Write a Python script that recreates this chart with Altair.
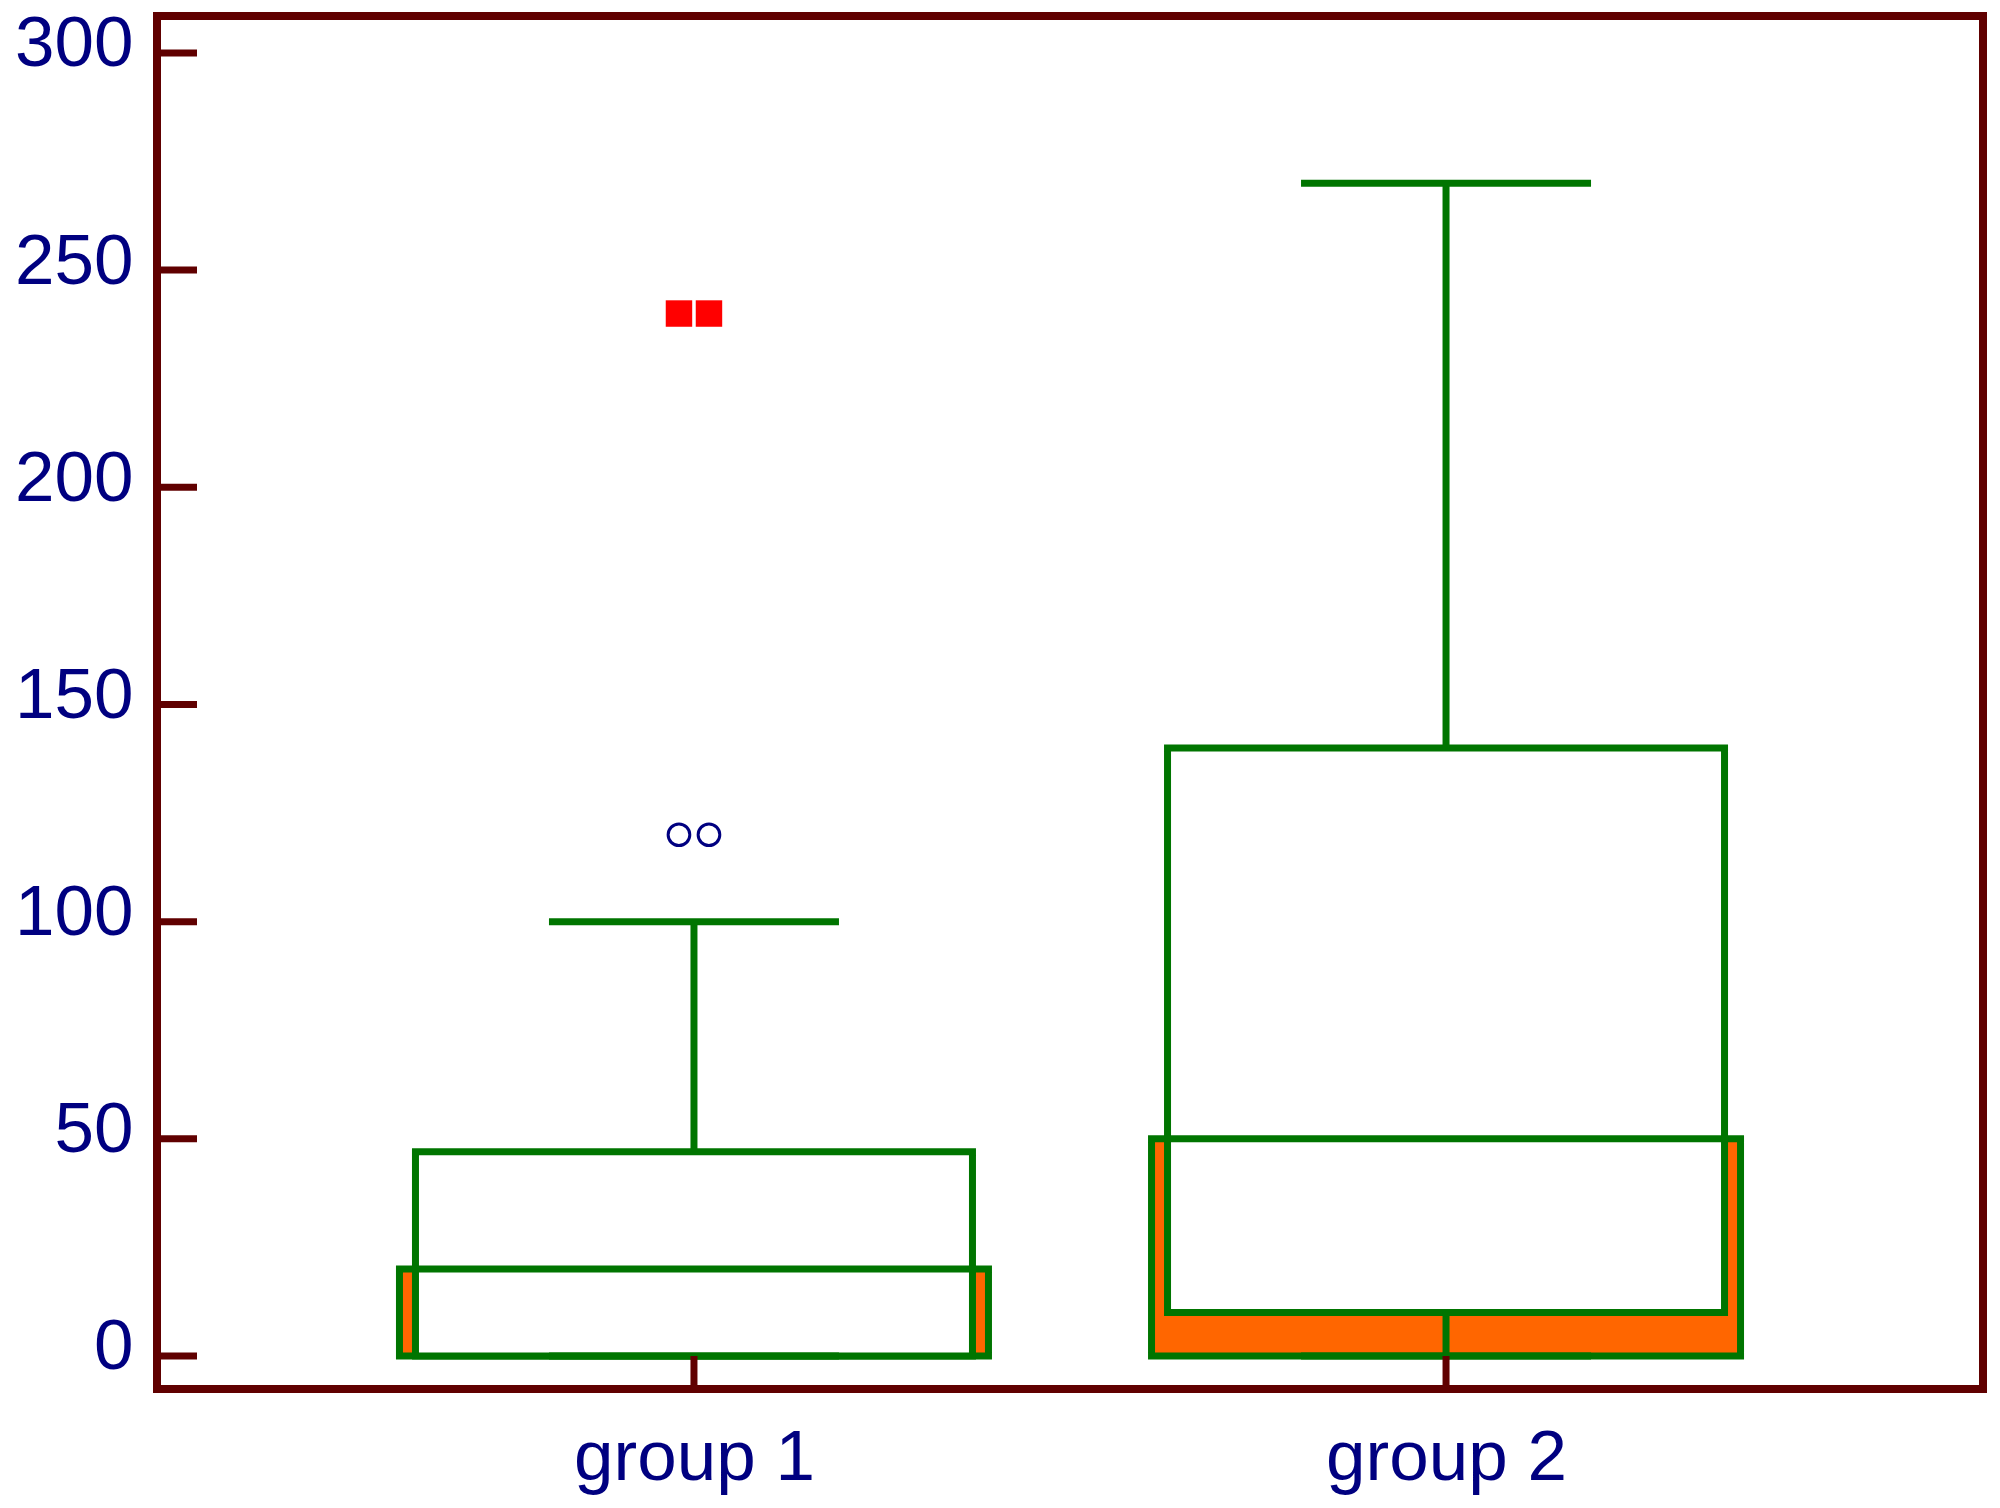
import altair as alt
import pandas as pd

# ---- data ----
groups = ["group 1", "group 2"]
q1 = [0, 10]
q3 = [47, 140]
median = [20, 50]
whisker_low = [0, 0]
whisker_high = [100, 270]
ci_low = [0, 0]
ci_high = [20, 50]

# outliers (group 1): two near outliers (circles), two far outliers (squares)
near_group = ["group 1", "group 1"]
near_vals = [120, 120]
far_group = ["group 1", "group 1"]
far_vals = [240, 240]

y_ticks = [0, 50, 100, 150, 200, 250, 300]

GREEN = "#007500"
ORANGE = "#FF6600"
FRAME = "#600000"
NAVY = "#000080"
FONT = "Liberation Sans"
LW = 7

W, H = 1826, 1373

stats = pd.DataFrame({
    "group": groups, "q1": q1, "q3": q3, "median": median,
    "wlo": whisker_low, "whi": whisker_high,
    "cilo": ci_low, "cihi": ci_high,
})
near = pd.DataFrame({"group": near_group, "value": near_vals, "slot": [0, 1]})
far = pd.DataFrame({"group": far_group, "value": far_vals, "slot": [0, 1]})
yt = pd.DataFrame({"v": y_ticks})

xscale = alt.Scale(type="point", domain=groups, padding=0.714)
yscale = alt.Scale(domain=[-7.6, 308.5], nice=False, zero=False)

X = alt.X("group:N", scale=xscale,
          axis=alt.Axis(title=None, labelAngle=0, domain=False, ticks=False,
                        grid=False, labelFontSize=71, labelFont=FONT,
                        labelColor=NAVY, labelPadding=34, labelLimit=0))
yaxis = alt.Axis(title=None, values=y_ticks, domain=False, ticks=False,
                 grid=False, labelFontSize=71, labelFont=FONT,
                 labelColor=NAVY, labelPadding=24, labelOffset=-8,
                 labelLimit=0)

def Y(field):
    return alt.Y(field, scale=yscale, axis=yaxis)

offset = alt.XOffset("slot:O", scale=alt.Scale(type="point", domain=[0, 1],
                                                range=[-15, 15], padding=0))

base = alt.Chart(stats)

ci = base.mark_bar(size=589, fill=ORANGE, stroke=GREEN, strokeWidth=LW).encode(
    x=X, y=Y("cilo:Q"), y2="cihi:Q"
)
box = base.mark_bar(size=557, fill="white", stroke=GREEN, strokeWidth=LW).encode(
    x=X, y=Y("q1:Q"), y2="q3:Q"
)
med = base.mark_tick(size=564, thickness=LW, color=GREEN, opacity=1).encode(
    x=X, y=Y("median:Q")
)
upper = base.mark_rule(strokeWidth=LW, color=GREEN).encode(
    x=X, y=Y("q3:Q"), y2="whi:Q"
)
lower = base.mark_rule(strokeWidth=LW, color=GREEN).encode(
    x=X, y=Y("wlo:Q"), y2="q1:Q"
)
cap_hi = base.mark_tick(size=290, thickness=LW, color=GREEN, opacity=1).encode(
    x=X, y=Y("whi:Q")
)
cap_lo = base.mark_tick(size=290, thickness=LW, color=GREEN, opacity=1).encode(
    x=X, y=Y("wlo:Q")
)

circles = alt.Chart(near).mark_point(
    shape="circle", filled=False, stroke=NAVY, strokeWidth=3, size=470, opacity=1
).encode(x=X, xOffset=offset, y=Y("value:Q"))

squares = alt.Chart(far).mark_point(
    shape="square", filled=True, fill="#FF0000", strokeWidth=0, size=700, opacity=1
).encode(x=X, xOffset=offset, y=Y("value:Q"))

yticks = alt.Chart(yt).mark_rule(color=FRAME, strokeWidth=LW).encode(
    y=Y("v:Q"), x=alt.value(0), x2=alt.value(40)
)
xticks = alt.Chart(pd.DataFrame({"group": groups})).mark_rule(
    color=FRAME, strokeWidth=LW
).encode(x=X, y=alt.value(H), y2=alt.value(H - 33))

chart = alt.layer(
    ci, box, med, upper, lower, cap_hi, cap_lo, circles, squares,
    yticks, xticks,
).properties(
    width=W, height=H,
    autosize=alt.AutoSizeParams(type="none"),
    padding={"left": 149, "top": 8, "right": 9, "bottom": 111},
    background="white",
).configure_view(stroke=FRAME, strokeWidth=8)

chart.save("out.html", embed_options={"renderer": "svg", "actions": False})
